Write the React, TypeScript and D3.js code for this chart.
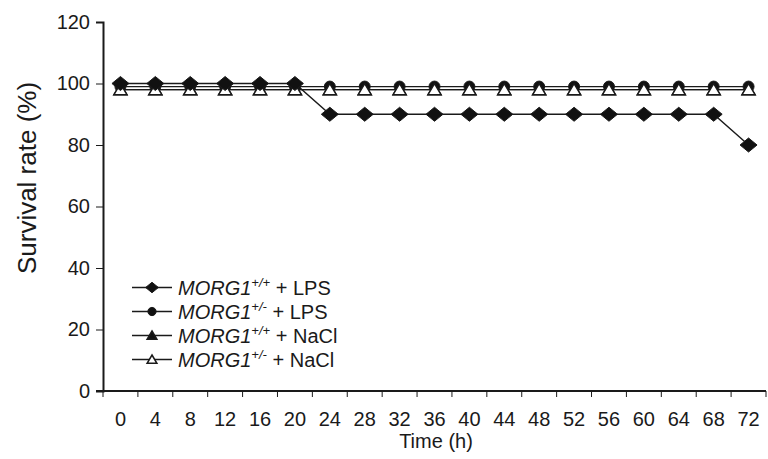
import * as d3 from "d3";
import { useEffect, useRef } from "react";

const hours = [0, 4, 8, 12, 16, 20, 24, 28, 32, 36, 40, 44, 48, 52, 56, 60, 64, 68, 72];
const lpsWild = [100, 100, 100, 100, 100, 100, 90, 90, 90, 90, 90, 90, 90, 90, 90, 90, 90, 90, 80];
const lpsHet = [99, 99, 99, 99, 99, 99, 99, 99, 99, 99, 99, 99, 99, 99, 99, 99, 99, 99, 99];
const naclWild = [98, 98, 98, 98, 98, 98, 98, 98, 98, 98, 98, 98, 98, 98, 98, 98, 98, 98, 98];
const naclHet = [98, 98, 98, 98, 98, 98, 98, 98, 98, 98, 98, 98, 98, 98, 98, 98, 98, 98, 98];
const yTicks = [0, 20, 40, 60, 80, 100, 120];

const seriesList = [
  { name: "lpsWild", values: lpsWild, sup: "+/+", tail: " + LPS", shape: "diamond", fill: "#111" },
  { name: "lpsHet", values: lpsHet, sup: "+/-", tail: " + LPS", shape: "circle", fill: "#111" },
  { name: "naclWild", values: naclWild, sup: "+/+", tail: " + NaCl", shape: "triangle", fill: "#111" },
  { name: "naclHet", values: naclHet, sup: "+/-", tail: " + NaCl", shape: "triangle", fill: "#fff" },
];
// порядок отрисовки: нижние первыми
const drawOrder = ["naclWild", "lpsHet", "naclHet", "lpsWild"];

const App = () => {
  const ref = useRef(null);

  useEffect(() => {
    const svg = d3.select(ref.current);
    svg.selectAll("*").remove();

    const margin = { top: 22, left: 103, right: 2, bottom: 68 };
    const width = 768, height = 459;
    const boundsH = height - margin.top - margin.bottom;

    const x = d3.scaleBand().domain(hours.map(String)).range([margin.left, width - margin.right]);
    const y = d3.scaleLinear().domain([0, 120]).range([margin.top + boundsH, margin.top]);
    const cx = (i) => x(String(hours[i])) + x.bandwidth() / 2;

    const font = "Liberation Sans, Arial, sans-serif";
    const ink = "#1a1a1a";

    // оси
    svg.append("g")
      .attr("transform", `translate(${margin.left},0)`)
      .call(d3.axisLeft(y).tickValues(yTicks).tickSize(7).tickPadding(6))
      .call(g => g.select(".domain").attr("stroke", ink).attr("stroke-width", 2))
      .call(g => g.selectAll("line").attr("stroke", ink))
      .call(g => g.selectAll("text").attr("font-family", font).attr("font-size", 20).attr("fill", ink));

    const xg = svg.append("g").attr("transform", `translate(0,${y(0)})`);
    xg.append("line").attr("x1", margin.left - 7).attr("x2", width - margin.right)
      .attr("stroke", ink).attr("stroke-width", 2);
    xg.selectAll(".xt").data(hours).enter().append("line")
      .attr("x1", d => x(String(d))).attr("x2", d => x(String(d)))
      .attr("y1", 0).attr("y2", 6).attr("stroke", ink);
    xg.append("line").attr("x1", width - margin.right).attr("x2", width - margin.right)
      .attr("y1", 0).attr("y2", 6).attr("stroke", ink);
    xg.selectAll(".xl").data(hours).enter().append("text")
      .attr("x", d => x(String(d)) + x.bandwidth() / 2).attr("y", 35)
      .attr("text-anchor", "middle").attr("font-family", font).attr("font-size", 20).attr("fill", ink)
      .text(d => d);

    svg.append("text").attr("x", 436).attr("y", 448).attr("text-anchor", "middle")
      .attr("font-family", font).attr("font-size", 20).attr("fill", ink).text("Time (h)");
    svg.append("text").attr("transform", `translate(36,178) rotate(-90)`).attr("text-anchor", "middle")
      .attr("font-family", font).attr("font-size", 26).attr("fill", ink).text("Survival rate (%)");

    const drawMarker = (g, shape, fill, px, py, k = 1) => {
      if (shape === "diamond") {
        g.append("path").attr("d", `M${px},${py - 7 * k}L${px + 8.5 * k},${py}L${px},${py + 7 * k}L${px - 8.5 * k},${py}Z`)
          .attr("fill", fill).attr("stroke", ink).attr("stroke-width", 1);
      } else if (shape === "circle") {
        g.append("circle").attr("cx", px).attr("cy", py).attr("r", 5.5 * k).attr("fill", fill).attr("stroke", ink);
      } else {
        g.append("path").attr("d", `M${px},${py - 6 * k}L${px + 6.5 * k},${py + 5 * k}L${px - 6.5 * k},${py + 5 * k}Z`)
          .attr("fill", fill).attr("stroke", ink).attr("stroke-width", 1.5);
      }
    };

    const ordered = drawOrder.map(n => seriesList.find(s => s.name === n));

    // линии и маркеры
    const line = d3.line().x((d, i) => cx(i)).y(d => y(d));
    ordered.forEach(s => {
      svg.append("path").attr("d", line(s.values)).attr("fill", "none").attr("stroke", ink).attr("stroke-width", 1.4);
    });
    ordered.forEach(s => {
      const g = svg.append("g");
      s.values.forEach((v, i) => drawMarker(g, s.shape, s.fill, cx(i), y(v)));
    });

    // легенда
    const lg = svg.append("g");
    seriesList.forEach((s, i) => {
      const ly = 287.5 + i * 24;
      lg.append("line").attr("x1", 132).attr("x2", 172).attr("y1", ly).attr("y2", ly)
        .attr("stroke", ink).attr("stroke-width", 1.4);
      drawMarker(lg, s.shape, s.fill, 152, ly, 0.75);
      const t = lg.append("text").attr("x", 178).attr("y", ly + 7)
        .attr("font-family", font).attr("font-size", 20).attr("fill", ink);
      t.append("tspan").attr("font-style", "italic").text("MORG1");
      t.append("tspan").attr("font-size", 13).attr("font-style", "italic").attr("dy", -8).text(s.sup);
      t.append("tspan").attr("dy", 8).text(s.tail);
    });
  }, []);

  return (
    <svg ref={ref} width={768} height={459} style={{ position: "absolute", left: 0, top: 0, background: "#fff" }}></svg>
  );
};

export default App;
